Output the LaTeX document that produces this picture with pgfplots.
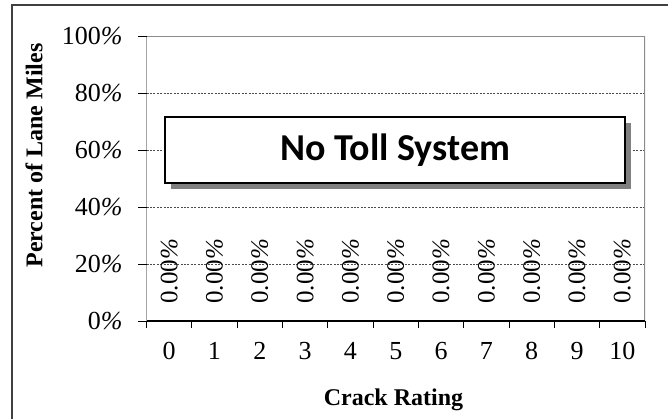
\documentclass[border=0pt]{standalone}
\usepackage{fontspec}
\setmainfont{Liberation Serif}
\newfontfamily\boxfont{Carlito}
\usepackage{pgfplots}
\pgfplotsset{compat=1.18}
\begin{document}
\begin{tikzpicture}
\useasboundingbox (0,0) rectangle (334pt,209.5pt);
\draw[line width=0.75pt, black!75] (6pt,0) -- (6pt,207pt) -- (334pt,207pt);
\begin{axis}[
  at={(73.25pt,49pt)}, anchor=south west,
  scale only axis, width=249.25pt, height=142.5pt,
  xmin=-0.5, xmax=10.5, ymin=0, ymax=100,
  /pgf/number format/assume math mode=true,
  ybar, bar width=20pt,
  xtick={0,...,10},
  minor xtick={-0.5,0.5,...,10.5},
  major x tick style={draw=none},
  ytick={0,20,...,100},
  yticklabels={0\textit{\%},20\textit{\%},40\textit{\%},60\textit{\%},80\textit{\%},100\textit{\%}},
  tick align=outside, xtick pos=left, ytick pos=left,
  major tick length=4pt, minor tick length=3.5pt,
  tick style={black, line width=0.5pt},
  ticklabel style={font=\fontsize{13}{15}\selectfont},
  xticklabel style={yshift=-3pt},
  yticklabel style={xshift=-4.5pt},
  ymajorgrids,
  major grid style={black!70, line width=0.35pt, dash pattern=on 1pt off 0.7pt},
  axis line style={draw=none},
  xlabel={\textbf{Crack Rating}},
  ylabel={\textbf{Percent of Lane Miles}},
  label style={font=\fontsize{12}{14}\selectfont},
  xlabel style={at={(axis description cs:0.4955,-0.277)}, anchor=center},
  ylabel style={at={(axis description cs:-0.2257,0.5807)}, anchor=center},
  nodes near coords={\pgfmathprintnumber[fixed,fixed zerofill,precision=2]{\pgfplotspointmeta}\textit{\%}},
  every node near coord/.append style={rotate=90, anchor=west, inner xsep=8.5pt, inner ysep=0pt, font=\fontsize{12.5}{15}\selectfont, black},
]
\addplot[draw=none, fill=none] coordinates {(0,0) (1,0) (2,0) (3,0) (4,0) (5,0) (6,0) (7,0) (8,0) (9,0) (10,0)};
\draw[black!45, line width=1pt] (rel axis cs:0,1) -- (rel axis cs:1,1) -- (rel axis cs:1,0);
\draw[black, line width=0.75pt] (rel axis cs:0,1) -- (rel axis cs:0,0) -- (rel axis cs:1,0);
\end{axis}
\fill[black!50] (85.5pt,115pt) rectangle (315.5pt,148pt);
\draw[fill=white, line width=1pt] (82.5pt,118pt) rectangle (312.5pt,151pt);
\node[font=\boxfont\bfseries\fontsize{19}{22}\selectfont] at (197.5pt,134.5pt) {No Toll System};
\end{tikzpicture}
\end{document}
